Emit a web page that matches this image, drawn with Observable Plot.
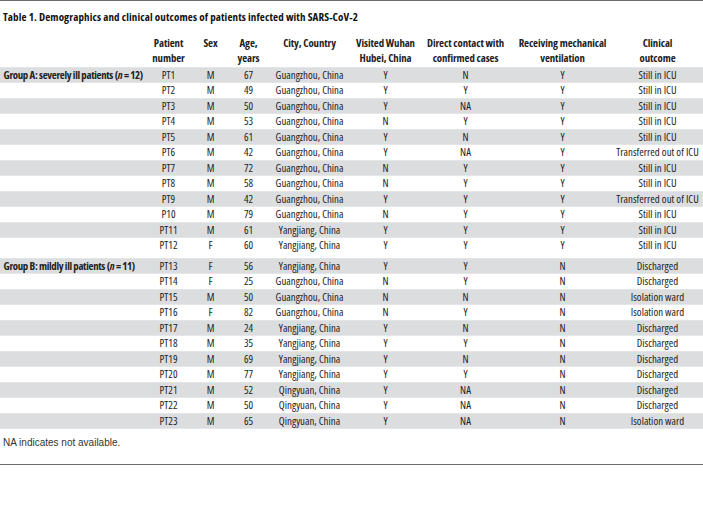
<!DOCTYPE html>
<html><head><meta charset="utf-8">
<script src="https://cdn.jsdelivr.net/npm/d3@7"></script>
<script src="https://cdn.jsdelivr.net/npm/@observablehq/plot@0.6"></script>
<style>
body{margin:0;background:#fff;width:703px;height:513px;position:relative;overflow:hidden}
.rule{position:absolute;left:0;width:703px;height:0;border-top:1.5px solid #6d6d6d}
#title{position:absolute;left:3px;top:11px;line-height:12px;font-weight:bold;font-size:11px;color:#111;white-space:nowrap}
#chart{position:absolute;left:0;top:30px}
#note{position:absolute;left:3px;top:437px;line-height:12px;font-size:10px;color:#333;
  font-family:"Liberation Sans",Arial,sans-serif;white-space:nowrap}
</style></head>
<body>
<div class="rule" style="top:0"></div>
<div id="title">Table 1. Demographics and clinical outcomes of patients infected with SARS-CoV-2</div>
<div id="chart"></div>
<div id="note">NA indicates not available.</div>
<div class="rule" style="top:464px"></div>
<script>
// ---- data ----
const headers = ["Patient\nnumber", "Sex", "Age,\nyears", "City, Country", "Visited Wuhan\nHubei, China",
  "Direct contact with\nconfirmed cases", "Receiving mechanical\nventilation", "Clinical\noutcome"];
const groupLabels = ["Group A: severely ill patients (n = 12)", "Group B: mildly ill patients (n = 11)"];
const groups = ["A","A","A","A","A","A","A","A","A","A","A","A","B","B","B","B","B","B","B","B","B","B","B"];
const patients = ["PT1","PT2","PT3","PT4","PT5","PT6","PT7","PT8","PT9","P10","PT11","PT12",
  "PT13","PT14","PT15","PT16","PT17","PT18","PT19","PT20","PT21","PT22","PT23"];
const sex = ["M","M","M","M","M","M","M","M","M","M","M","F","F","F","M","F","M","M","M","M","M","M","M"];
const age = [67,49,50,53,61,42,72,58,42,79,61,60,56,25,50,82,24,35,69,77,52,50,65];
const city = ["Guangzhou, China","Guangzhou, China","Guangzhou, China","Guangzhou, China","Guangzhou, China",
  "Guangzhou, China","Guangzhou, China","Guangzhou, China","Guangzhou, China","Guangzhou, China",
  "Yangjiang, China","Yangjiang, China","Yangjiang, China","Guangzhou, China","Guangzhou, China",
  "Guangzhou, China","Yangjiang, China","Yangjiang, China","Yangjiang, China","Yangjiang, China",
  "Qingyuan, China","Qingyuan, China","Qingyuan, China"];
const visited = ["Y","Y","Y","N","Y","Y","N","N","Y","N","Y","Y","Y","N","N","N","Y","Y","Y","Y","Y","Y","Y"];
const contact = ["N","Y","NA","Y","N","NA","Y","Y","Y","Y","Y","Y","Y","Y","N","Y","N","Y","N","Y","NA","NA","NA"];
const ventilation = ["Y","Y","Y","Y","Y","Y","Y","Y","Y","Y","Y","Y","N","N","N","N","N","N","N","N","N","N","N"];
const outcome = ["Still in ICU","Still in ICU","Still in ICU","Still in ICU","Still in ICU","Transferred out of ICU",
  "Still in ICU","Still in ICU","Transferred out of ICU","Still in ICU","Still in ICU","Still in ICU",
  "Discharged","Discharged","Isolation ward","Isolation ward","Discharged","Discharged","Discharged",
  "Discharged","Discharged","Discharged","Isolation ward"];

// ---- pick a condensed font that is actually present ----
const candidates = [
  ['"Liberation Sans Narrow"', "normal"], ['"Noto Sans"', "75%"], ['"Noto Sans"', "87.5%"],
  ['"Open Sans"', "75%"], ['"Open Sans"', "87.5%"], ['"DejaVu Sans Condensed"', "normal"],
  ['Roboto', "normal"], ['Lato', "normal"], ['Inter', "normal"], ['"Liberation Sans"', "normal"]
];
function measure(text, fam, st, weight, size) {
  const s = document.createElement("span");
  s.textContent = text;
  s.style.cssText = `position:absolute;visibility:hidden;white-space:nowrap;font-family:${fam},sans-serif;font-stretch:${st};font-weight:${weight};font-size:${size}px`;
  document.body.appendChild(s);
  const w = s.getBoundingClientRect().width;
  s.remove();
  return w;
}
function fit(text, target, weight, size) {
  let best = null;
  for (const [fam, st] of candidates) {
    const w = measure(text, fam, st, weight, size);
    const err = Math.abs(w - target);
    if (!best || err < best.err) best = {fam, st, w, err};
  }
  best.ls = Math.max(-0.8, Math.min(0.8, (target - best.w) / text.length));
  return best;
}
function applyFont(el, f) {
  el.style.fontFamily = f.fam + ", sans-serif";
  el.style.fontStretch = f.st;
  el.style.letterSpacing = f.ls.toFixed(2) + "px";
}
const fBody = fit("Guangzhou, China", 68, 400, 10.8);
const fHead = fit("Direct contact with", 77, 700, 10.8);
const fGroup = fit("Group A: severely ill patients (n = 12)", 140, 700, 10.8);
const fTitle = fit("Table 1. Demographics and clinical outcomes of patients infected with SARS-CoV-2", 355, 700, 11);
applyFont(document.getElementById("title"), fTitle);

// ---- table build ----
const columns = [patients, sex, age, city, visited, contact, ventilation, outcome];
const groupGap = 0.32;
const rowPos = i => i + (groups[i] === "B" ? groupGap : 0);
const cells = [];
patients.forEach((p, i) => columns.forEach((col, c) => cells.push({col: c, y: rowPos(i), text: String(col[i])})));
const firstIdx = g => groups.indexOf(g);
const stripes = patients.map((p, i) => ({y: rowPos(i), idx: i - firstIdx(groups[i])})).filter(d => d.idx % 2 === 0);
const groupRows = ["A","B"].map((g, k) => ({y: rowPos(firstIdx(g)), text: groupLabels[k]}));
const headerRows = headers.map((h, c) => ({col: c, text: h}));

const plot = Plot.plot({
  width: 703, height: 405,
  margin: 0,
  style: {fontSize: "10.8px", color: "#222", background: "transparent"},
  x: {type: "linear", domain: [0,1,2,3,4,5,6,7], range: [168,210,248,309,385,465,562,657], axis: null},
  y: {type: "linear", domain: [0, 1], range: [45, 60.5], axis: null},
  marks: [
    Plot.rect(stripes, {y1: d => d.y - 0.5, y2: d => d.y + 0.5, fill: "#dcdddf"}),
    Plot.text(headerRows, {x: "col", y: () => -2.45, text: "text", lineAnchor: "top", lineHeight: 1.3,
      fontWeight: "bold", textAnchor: "middle"}),
    Plot.text(groupRows, {y: "y", text: "text", frameAnchor: "left", dx: 3, textAnchor: "start", fontWeight: "bold"}),
    Plot.text(cells, {x: "col", y: "y", text: "text", textAnchor: "middle"})
  ]
});
const textGroups = plot.querySelectorAll('g[aria-label="text"]');
applyFont(textGroups[0], fHead);
applyFont(textGroups[1], fGroup);
applyFont(textGroups[2], fBody);
plot.querySelectorAll("text").forEach(t => {
  const m = t.textContent.match(/^(.*\()n( = \d+\))$/);
  if (m) t.innerHTML = m[1] + '<tspan font-style="italic">n</tspan>' + m[2];
});
document.getElementById("chart").appendChild(plot);
</script>
</body></html>
